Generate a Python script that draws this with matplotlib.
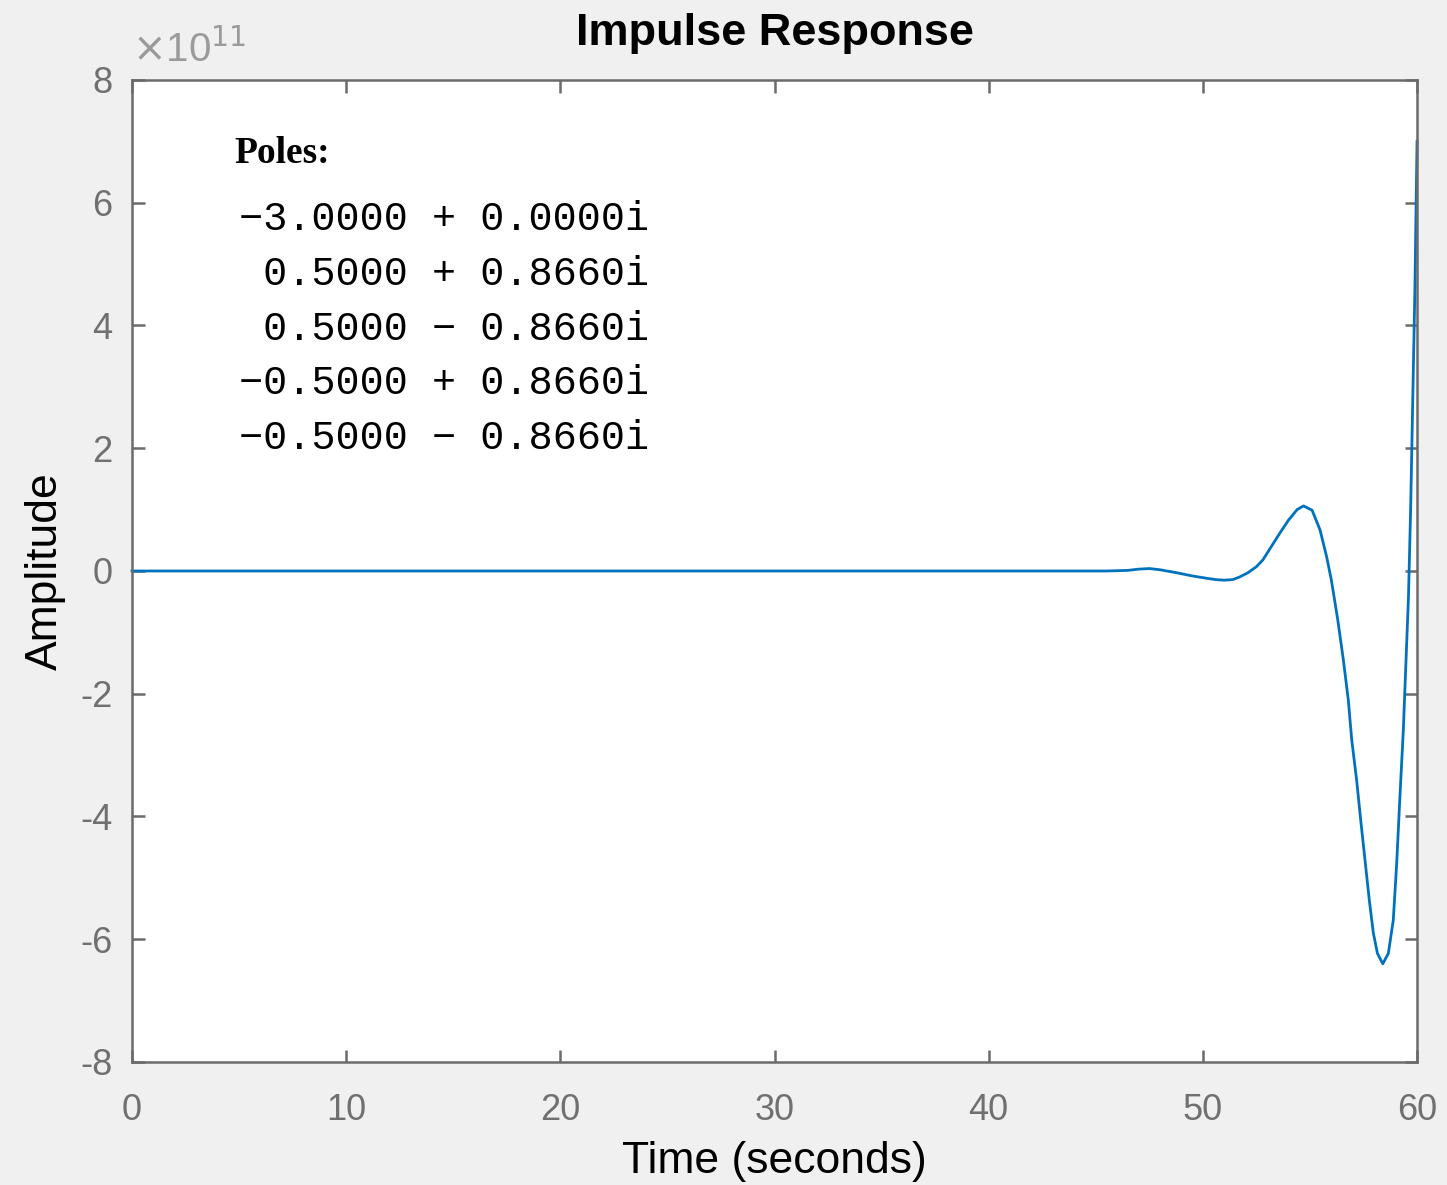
import matplotlib
matplotlib.use("Agg")
import matplotlib.pyplot as plt

plt.rcParams["axes.unicode_minus"] = False

# Impulse response samples, amplitude in units of 1e11
time_s = [0.0, 44.0, 45.5, 46.5, 47.0, 47.5, 48.0, 48.8, 49.5, 50.2, 50.6,
          51.0, 51.4, 51.7, 52.1, 52.5, 52.8, 53.2, 53.6, 54.0, 54.4, 54.7,
          55.1, 55.47, 55.78, 56.0, 56.3, 56.56, 56.79, 56.95, 57.18, 57.37,
          57.57, 57.77, 57.96, 58.15, 58.4, 58.66, 58.89, 59.05, 59.2, 59.36,
          59.48, 59.6, 59.7, 59.8, 59.9, 60.0]
amplitude = [0.0, 0.0, 0.0, 0.01, 0.03, 0.04, 0.02, -0.03, -0.08, -0.12, -0.14,
             -0.15, -0.14, -0.1, -0.03, 0.07, 0.18, 0.4, 0.62, 0.83, 1.0, 1.06,
             0.99, 0.67, 0.23, -0.15, -0.8, -1.45, -2.1, -2.75, -3.41, -4.06,
             -4.71, -5.36, -5.9, -6.23, -6.4, -6.23, -5.69, -4.76, -3.68, -2.59,
             -1.5, -0.42, 1.0, 2.8, 4.6, 7.0]

x_ticks = [0, 10, 20, 30, 40, 50, 60]
y_ticks = [-8, -6, -4, -2, 0, 2, 4, 6, 8]

poles_lines = [
    "\u22123.0000 + 0.0000i",
    " 0.5000 + 0.8660i",
    " 0.5000 \u2212 0.8660i",
    "\u22120.5000 + 0.8660i",
    "\u22120.5000 \u2212 0.8660i",
]

bg = "#f0f0f0"
axis_gray = "#6b6b6b"
tick_gray = "#707070"

fig = plt.figure(figsize=(14.47, 11.85), dpi=100, facecolor=bg)
ax = fig.add_axes([0.0912, 0.1038, 0.8881, 0.8287])
ax.set_facecolor("white")

ax.plot(time_s, amplitude, color="#0072bd", linewidth=2.0, clip_on=False)

ax.set_xlim(0, 60)
ax.set_ylim(-8, 8)
ax.set_xticks(x_ticks)
ax.set_yticks(y_ticks)
ax.tick_params(axis="both", direction="in", length=9, width=1.8,
               color=axis_gray, labelcolor=tick_gray, labelsize=26,
               top=True, right=True)
ax.tick_params(axis="x", pad=22)
ax.tick_params(axis="y", pad=14)
for spine in ax.spines.values():
    spine.set_color(axis_gray)
    spine.set_linewidth(1.8)

ax.set_title("Impulse Response", fontsize=32.5, fontweight="bold",
             family="Liberation Sans", pad=25)
ax.set_xlabel("Time (seconds)", fontsize=32, family="Liberation Sans", labelpad=10)
ax.set_ylabel("Amplitude", fontsize=32, family="Liberation Sans", labelpad=10)

# exponent marker for the y axis
ax.text(0.0, 1.01, r"$\times$10$^{11}$", transform=ax.transAxes,
        fontsize=29, color="#9a9a9a", ha="left", va="bottom",
        family="Liberation Sans")

# pole listing
ax.text(4.8, 6.8, "Poles:", fontsize=27, fontweight="bold",
        family="Liberation Serif", ha="left", va="center")
for i, line in enumerate(poles_lines):
    ax.text(5.0, 5.74 - i * 0.895, line, fontsize=29, family="Liberation Mono",
            ha="left", va="center", color="black")

for lab in ax.get_xticklabels() + ax.get_yticklabels():
    lab.set_family("Liberation Sans")

fig.savefig("out.png", dpi=100, facecolor=bg)
